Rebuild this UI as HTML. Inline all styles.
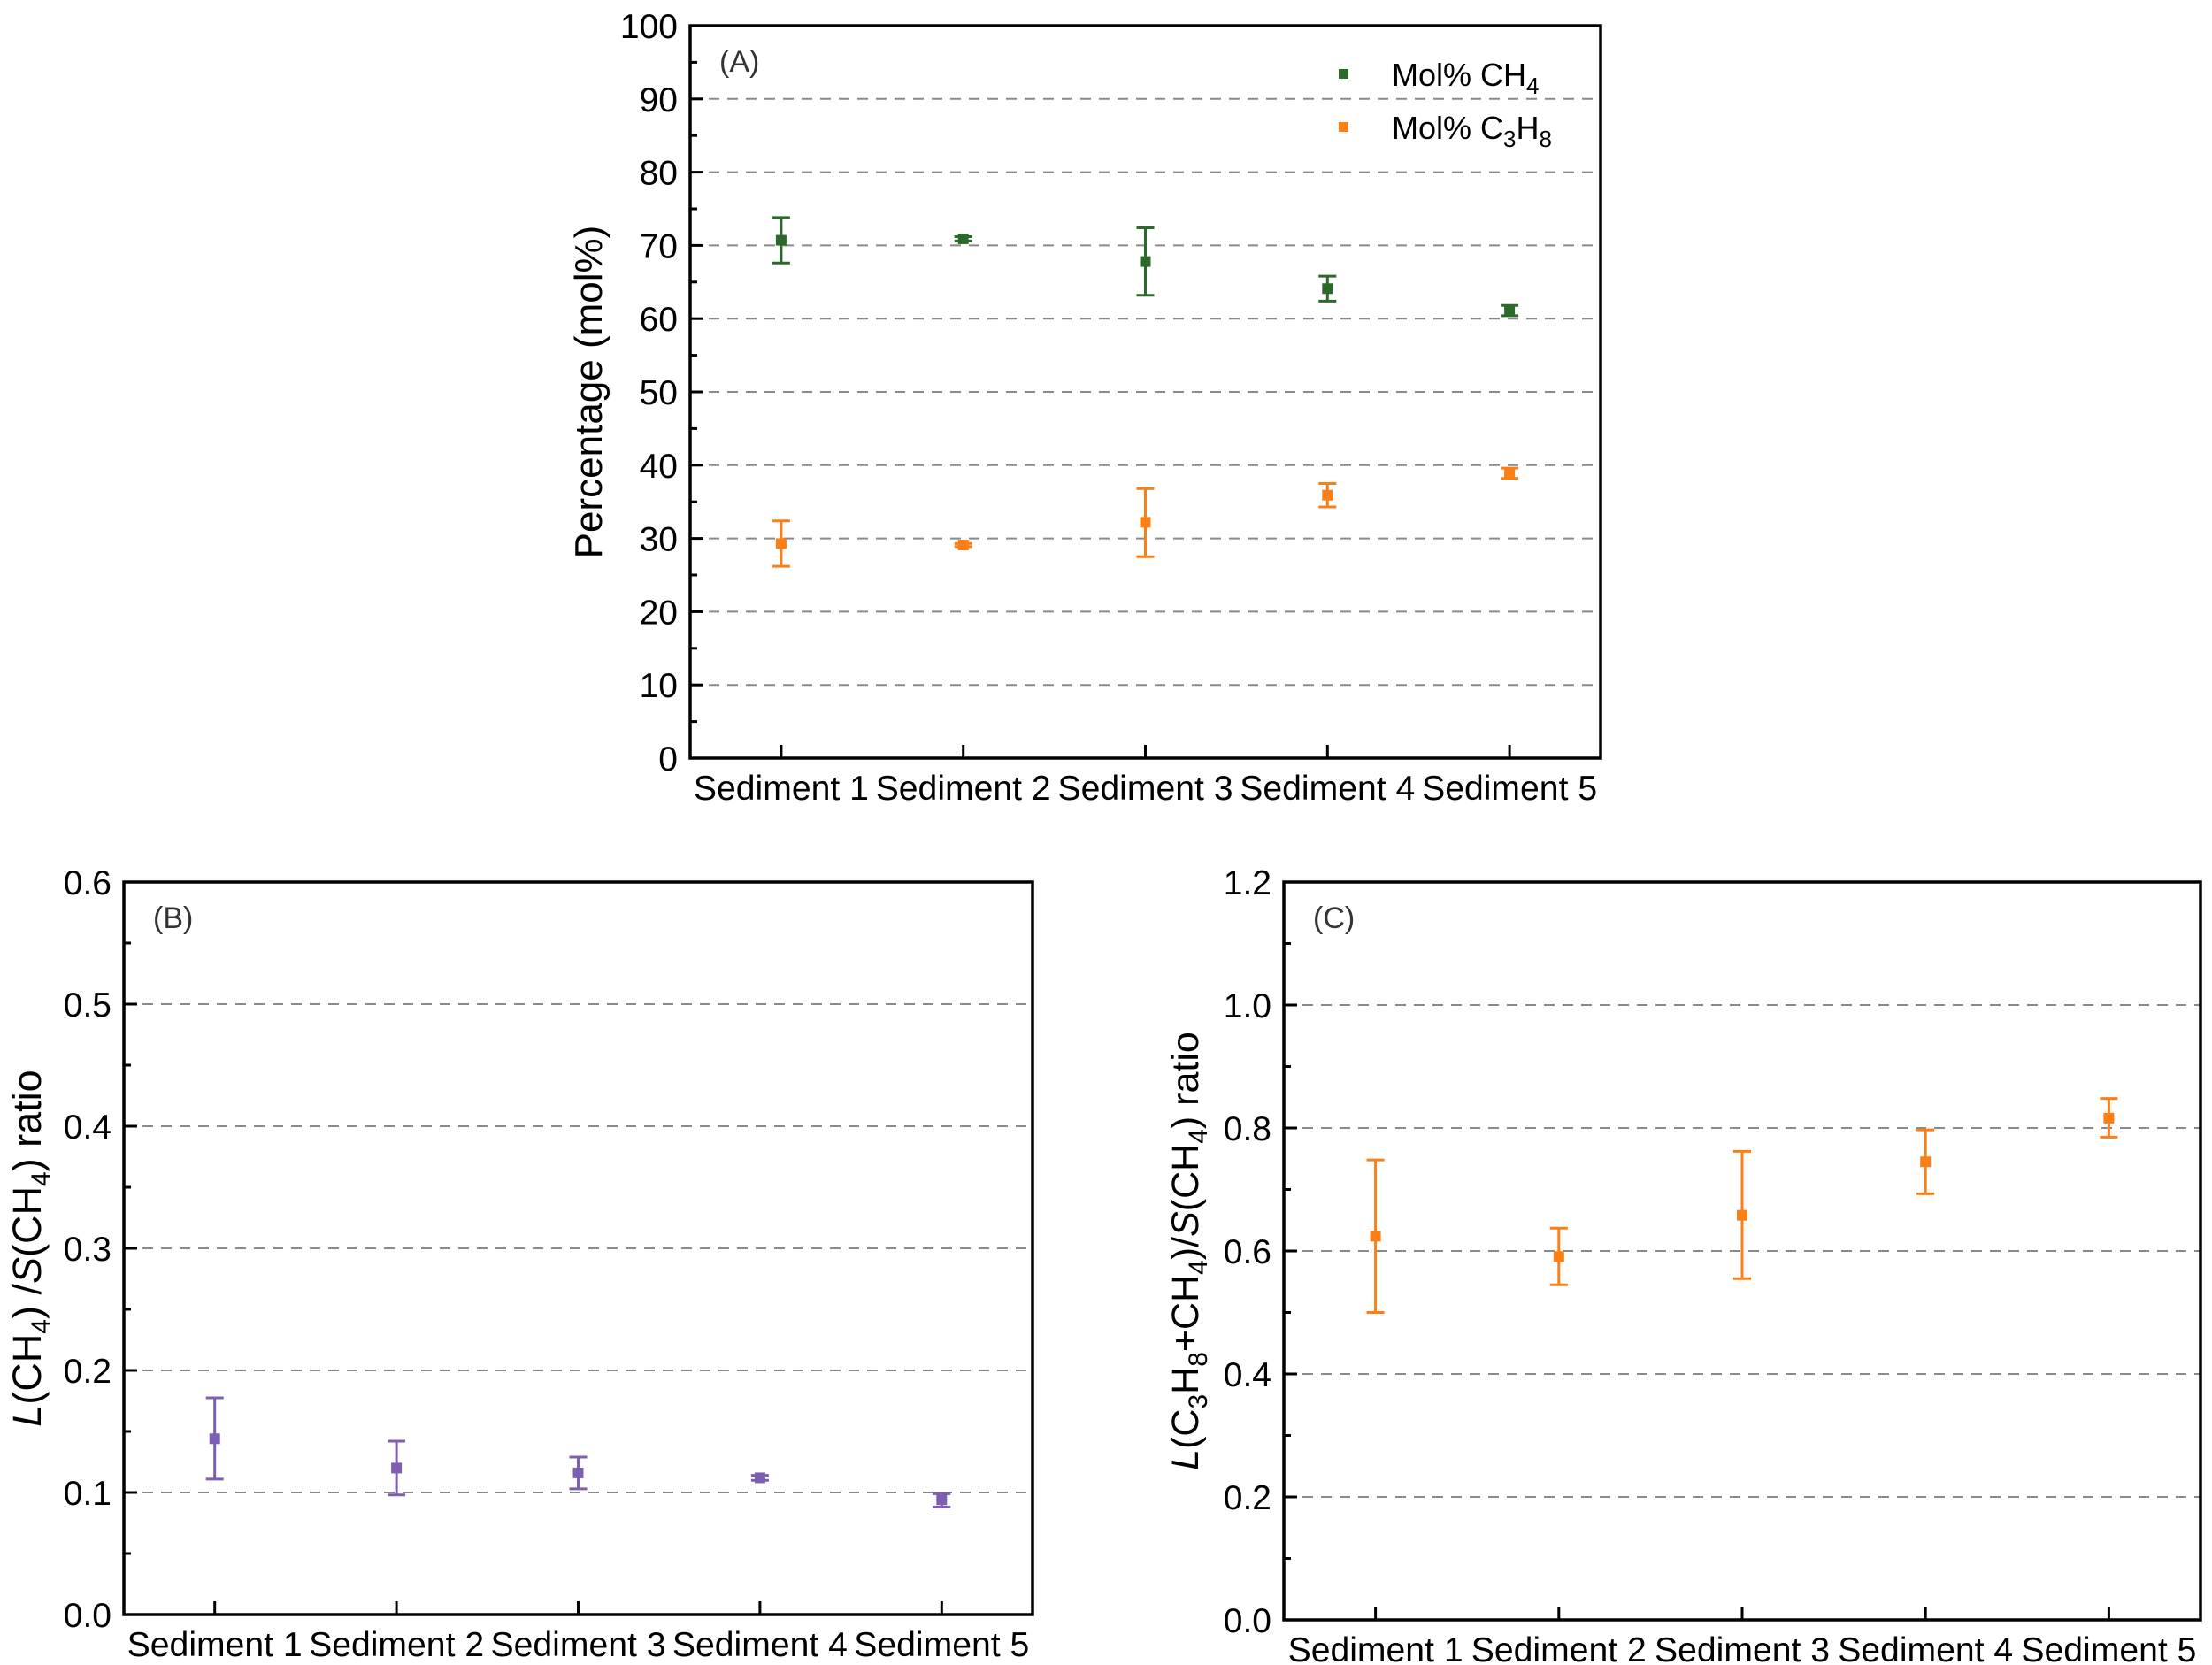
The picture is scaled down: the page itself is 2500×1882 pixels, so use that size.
<!DOCTYPE html>
<html><head><meta charset="utf-8"><style>
html,body{margin:0;padding:0;background:#fff;}
svg{display:block;font-family:"Liberation Sans",Arial,sans-serif;}
</style></head><body>
<svg id="fig" width="2500" height="1882" viewBox="0 0 2500 1882" xmlns="http://www.w3.org/2000/svg"></svg>
<script>
const categories = ["Sediment 1","Sediment 2","Sediment 3","Sediment 4","Sediment 5"];
const ch4Mean = [70.7, 70.9, 67.8, 64.1, 61.1];
const ch4Lo   = [67.6, 70.6, 63.2, 62.4, 60.4];
const ch4Hi   = [73.8, 71.2, 72.4, 65.8, 61.8];
const c3Mean = [29.3, 29.1, 32.2, 35.9, 38.9];
const c3Lo   = [26.2, 28.9, 27.5, 34.3, 38.2];
const c3Hi   = [32.4, 29.3, 36.8, 37.5, 39.6];
const bMean = [0.144, 0.120, 0.116, 0.112, 0.094];
const bLo   = [0.111, 0.098, 0.103, 0.110, 0.088];
const bHi   = [0.1775, 0.142, 0.129, 0.114, 0.099];
const cMean = [0.624, 0.591, 0.658, 0.745, 0.816];
const cLo   = [0.500, 0.545, 0.555, 0.693, 0.785];
const cHi   = [0.748, 0.637, 0.762, 0.797, 0.848];
const aTicks = ["0","10","20","30","40","50","60","70","80","90","100"];
const bTicks = ["0.0","0.1","0.2","0.3","0.4","0.5","0.6"];
const cTicks = ["0.0","0.2","0.4","0.6","0.8","1.0","1.2"];

const NS="http://www.w3.org/2000/svg";
const svg=document.getElementById('fig');
function mk(tag,attrs,parent){const e=document.createElementNS(NS,tag);for(const k in attrs)e.setAttribute(k,attrs[k]);(parent||svg).appendChild(e);return e;}

function panel(id,x0,x1,y0,y1,ymax,ticks,label,titleHTML,titleX,titleSize,series){
  const g=mk('g',{});
  
  
  const xs=i=>x0+(i+0.5)*(x1-x0)/categories.length;
  const ys=v=>y1-v/ymax*(y1-y0);
  const n=ticks.length-1;
  for(let k=1;k<n;k++){
    const v=ymax*k/n;
    const l=mk('line',{x1:x0,x2:x1,y1:ys(v),y2:ys(v),stroke:'#8a8a8a','stroke-width':2,'stroke-dasharray':'12,9'},g);
    
    
  }
  for(let k=0;k<=n;k++){
    const v=ymax*k/n;
    mk('line',{x1:x0,x2:x0+15,y1:ys(v),y2:ys(v),stroke:'#000','stroke-width':3},g);
    if(k<n){const vm=ymax*(k+0.5)/n;mk('line',{x1:x0,x2:x0+8,y1:ys(vm),y2:ys(vm),stroke:'#000','stroke-width':3},g);}
    const t=mk('text',{x:x0-14,y:ys(v)+14,'text-anchor':'end','font-size':39},g);
    t.textContent=ticks[k];
    
    
  }
  categories.forEach((c,i)=>{
    mk('line',{x1:xs(i),x2:xs(i),y1:y1,y2:y1-15,stroke:'#000','stroke-width':3},g);
    const t=mk('text',{x:xs(i),y:y1+47,'text-anchor':'middle','font-size':39,textLength:198,lengthAdjust:'spacingAndGlyphs'},g);
    t.textContent=c;
    
    
  });
  const box=mk('rect',{x:x0,y:y0,width:x1-x0,height:y1-y0,fill:'none',stroke:'#000','stroke-width':3.5},g);
  
  
  const lb=mk('text',{x:x0+33,y:y0+52,'font-size':34,fill:'#333'},g);
  lb.textContent=label;
  
  
  const midY=(y0+y1)/2;
  const tt=mk('text',{x:titleX,y:midY,'text-anchor':'middle','font-size':titleSize,transform:`rotate(-90 ${titleX} ${midY})`},g);
  tt.innerHTML=titleHTML;
  
  
  series.forEach(s=>{
    s.mean.forEach((m,i)=>{
      const x=xs(i);
      const eg=mk('g',{stroke:s.color,'stroke-width':3,fill:s.color},g);
      
      
      mk('line',{x1:x,x2:x,y1:ys(s.lo[i]),y2:ys(s.hi[i])},eg);
      mk('line',{x1:x-10,x2:x+10,y1:ys(s.lo[i]),y2:ys(s.lo[i])},eg);
      mk('line',{x1:x-10,x2:x+10,y1:ys(s.hi[i]),y2:ys(s.hi[i])},eg);
      mk('rect',{x:x-6,y:ys(m)-6,width:12,height:12,stroke:'none'},eg);
    });
  });
  return g;
}
const green='#2c6a2c', orange='#fb7f17', purple='#7d5eb0';
panel('a',780,1809,29,857,100,aTicks,'(A)','Percentage (mol%)',680,44,
  [{name:'ch4',color:green,mean:ch4Mean,lo:ch4Lo,hi:ch4Hi},{name:'c3h8',color:orange,mean:c3Mean,lo:c3Lo,hi:c3Hi}]);
panel('b',140,1167,997,1825,0.6,bTicks,'(B)','<tspan font-style="italic">L</tspan>(CH<tspan font-size="30" dy="10">4</tspan><tspan dy="-10">) /</tspan><tspan font-style="italic">S</tspan>(CH<tspan font-size="30" dy="10">4</tspan><tspan dy="-10">) ratio</tspan>',46,45,
  [{name:'lch4',color:purple,mean:bMean,lo:bLo,hi:bHi}]);
panel('c',1451,2487,997,1831,1.2,cTicks,'(C)','<tspan font-style="italic">L</tspan>(C<tspan font-size="30" dy="10">3</tspan><tspan dy="-10">H</tspan><tspan font-size="30" dy="10">8</tspan><tspan dy="-10">+CH</tspan><tspan font-size="30" dy="10">4</tspan><tspan dy="-10">)/</tspan><tspan font-style="italic">S</tspan>(CH<tspan font-size="30" dy="10">4</tspan><tspan dy="-10">) ratio</tspan>',1354,43,
  [{name:'lc3h8',color:orange,mean:cMean,lo:cLo,hi:cHi}]);
const lg=mk('g',{});


mk('rect',{x:1513,y:78,width:11,height:11,fill:green},lg);
mk('rect',{x:1513,y:138,width:11,height:11,fill:orange},lg);
const l1=mk('text',{x:1573,y:97,'font-size':36},lg);
l1.innerHTML='Mol% CH<tspan font-size="26" dy="9">4</tspan>';


const l2=mk('text',{x:1573,y:157,'font-size':36},lg);
l2.innerHTML='Mol% C<tspan font-size="26" dy="9">3</tspan><tspan dy="-9">H</tspan><tspan font-size="26" dy="9">8</tspan>';


</script>
</body></html>
